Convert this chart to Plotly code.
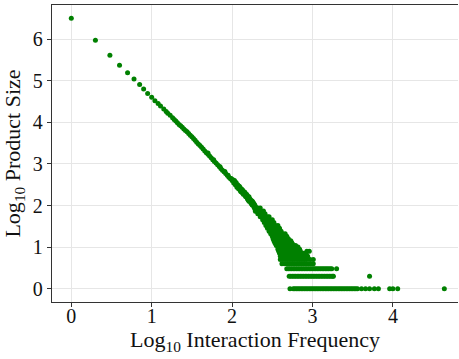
import plotly.graph_objects as go

# Log10 interaction frequency (x) vs log10 product size (y)
head_x = [0.00, 0.30, 0.48, 0.60, 0.70, 0.78, 0.85, 0.90, 0.95, 1.00]
head_y = [6.50, 5.97, 5.61, 5.37, 5.19, 5.04, 4.91, 4.80, 4.69, 4.60]

line_x = [1.04, 1.08, 1.11, 1.15, 1.18, 1.20, 1.23, 1.26, 1.28, 1.30, 1.32, 1.34,
          1.36, 1.38, 1.40, 1.42, 1.44, 1.46, 1.48, 1.50, 1.52, 1.54, 1.56, 1.58,
          1.60, 1.62, 1.64, 1.66, 1.68, 1.70, 1.72, 1.74, 1.76, 1.78, 1.80, 1.82,
          1.84, 1.86, 1.88, 1.90, 1.92, 1.94, 1.96, 1.98, 2.00,
          1.70, 1.77, 1.85, 1.91, 1.95, 1.99]
line_y = [4.52, 4.45, 4.39, 4.32, 4.26, 4.22, 4.17, 4.11, 4.07, 4.03, 3.99, 3.95,
          3.92, 3.88, 3.84, 3.80, 3.77, 3.73, 3.69, 3.65, 3.61, 3.57, 3.52, 3.48,
          3.44, 3.40, 3.36, 3.31, 3.27, 3.23, 3.19, 3.15, 3.10, 3.06, 3.02, 2.98,
          2.94, 2.89, 2.85, 2.81, 2.77, 2.73, 2.68, 2.64, 2.60,
          3.26, 3.10, 2.93, 2.82, 2.73, 2.65]

spread_x = [2.01, 2.02, 2.03, 2.04, 2.05, 2.06, 2.07, 2.08, 2.09, 2.10, 2.10, 2.11,
            2.12, 2.13, 2.13, 2.14, 2.15, 2.16, 2.16, 2.17, 2.18, 2.19, 2.19, 2.20,
            2.21, 2.21, 2.22, 2.23, 2.23, 2.24, 2.25, 2.25, 2.26, 2.27, 2.27, 2.28,
            2.28, 2.29, 2.29, 2.30]
spread_y = [2.62, 2.54, 2.60, 2.50, 2.55, 2.44, 2.50, 2.40, 2.46, 2.36, 2.43, 2.33,
            2.39, 2.30, 2.37, 2.27, 2.33, 2.24, 2.31, 2.21, 2.27, 2.16, 2.24, 2.13,
            2.21, 2.10, 2.16, 2.07, 2.14, 2.04, 2.11, 2.01, 2.08, 1.97, 2.05, 1.93,
            2.02, 1.86, 1.98, 1.90]

# Dense wedge, one list per product-size level
wedge_levels = [0.60, 0.70, 0.78, 0.85, 0.90, 0.95, 1.00, 1.04, 1.08, 1.11, 1.15,
                1.20, 1.26, 1.32, 1.38, 1.45, 1.52, 1.59, 1.66, 1.73, 1.80, 1.87, 1.94]
wedge_rows_x = [
    [2.62, 2.65, 2.68, 2.71, 2.74, 2.77, 2.80, 2.83, 2.86, 2.89, 2.92, 2.95, 2.98, 3.01],
    [2.60, 2.63, 2.66, 2.69, 2.72, 2.75, 2.78, 2.81, 2.84, 2.87, 2.90, 2.93, 2.97, 3.01],
    [2.60, 2.64, 2.67, 2.70, 2.73, 2.76, 2.79, 2.82, 2.85, 2.88, 2.91, 2.94],
    [2.59, 2.62, 2.65, 2.68, 2.71, 2.74, 2.77, 2.80, 2.83, 2.86, 2.89, 2.92],
    [2.58, 2.61, 2.64, 2.67, 2.70, 2.73, 2.76, 2.79, 2.82, 2.85, 2.93, 2.96],
    [2.57, 2.60, 2.63, 2.66, 2.69, 2.72, 2.75, 2.78, 2.81, 2.84],
    [2.57, 2.60, 2.63, 2.66, 2.69, 2.72, 2.75, 2.78, 2.82],
    [2.55, 2.58, 2.61, 2.64, 2.67, 2.70, 2.73, 2.76, 2.79],
    [2.54, 2.57, 2.60, 2.63, 2.66, 2.69, 2.72, 2.75],
    [2.53, 2.56, 2.59, 2.62, 2.65, 2.68, 2.71, 2.74],
    [2.52, 2.55, 2.58, 2.61, 2.64, 2.67, 2.70, 2.73],
    [2.51, 2.54, 2.57, 2.60, 2.63, 2.66, 2.70],
    [2.50, 2.53, 2.56, 2.59, 2.62, 2.65, 2.68],
    [2.48, 2.51, 2.54, 2.57, 2.60, 2.63, 2.66],
    [2.46, 2.49, 2.52, 2.55, 2.58, 2.61],
    [2.44, 2.47, 2.50, 2.53, 2.56, 2.59],
    [2.42, 2.45, 2.48, 2.51, 2.54, 2.57],
    [2.40, 2.43, 2.46, 2.49, 2.52],
    [2.38, 2.41, 2.44, 2.47, 2.50],
    [2.35, 2.38, 2.41, 2.44, 2.46],
    [2.32, 2.35, 2.38, 2.41],
    [2.30, 2.33, 2.36, 2.39],
    [2.29, 2.32, 2.35],
]

row3_y = 0.477
row3_x = [2.68, 2.70, 2.72, 2.74, 2.76, 2.78, 2.80, 2.82, 2.84, 2.86, 2.88, 2.90,
          2.92, 2.94, 2.96, 2.98, 3.00, 3.02, 3.04, 3.06, 3.08, 3.10, 3.12, 3.14,
          3.16, 3.18, 3.20, 3.22, 3.24, 3.30]
row2_y = 0.301
row2_x = [2.71, 2.73, 2.75, 2.77, 2.79, 2.81, 2.83, 2.85, 2.87, 2.89, 2.91, 2.93,
          2.95, 2.97, 2.99, 3.01, 3.03, 3.05, 3.07, 3.09, 3.11, 3.13, 3.15, 3.17,
          3.19, 3.21, 3.23, 3.25, 3.26, 3.71]
row1_y = 0.0
row1_x = [2.72, 2.76, 2.78, 2.80, 2.82, 2.84, 2.86, 2.88, 2.90, 2.92, 2.94, 2.96,
          2.98, 3.00, 3.02, 3.04, 3.06, 3.08, 3.10, 3.12, 3.14, 3.16, 3.18, 3.20,
          3.22, 3.24, 3.26, 3.28, 3.30, 3.32, 3.34, 3.36, 3.38, 3.40, 3.42, 3.44,
          3.46, 3.48, 3.50, 3.52, 3.54, 3.56, 3.61, 3.66, 3.71, 3.77, 3.82, 3.96,
          4.00, 4.06, 4.64]

xs = head_x + line_x + spread_x
ys = head_y + line_y + spread_y
for lvl, rx in zip(wedge_levels, wedge_rows_x):
    xs += rx
    ys += [lvl] * len(rx)
for lvl, rx in ((row3_y, row3_x), (row2_y, row2_x), (row1_y, row1_x)):
    xs += rx
    ys += [lvl] * len(rx)

FONT = "Liberation Serif"

fig = go.Figure(go.Scatter(
    x=xs, y=ys, mode="markers",
    marker=dict(color="#008000", size=5, line=dict(width=0)),
    showlegend=False,
))

axis_common = dict(
    showline=True, linecolor="#333333", linewidth=1.3,
    showgrid=True, gridcolor="#e6e6e6", gridwidth=1,
    zeroline=False, ticks="outside", ticklen=4, tickcolor="#333333",
    tickfont=dict(family=FONT, size=20, color="#111111"),
    automargin=False,
)

fig.update_layout(
    width=459, height=359,
    margin=dict(l=52, r=1, t=5, b=57),
    paper_bgcolor="white", plot_bgcolor="white",
    xaxis=dict(range=[-0.24, 4.81], tickvals=[0, 1, 2, 3, 4], mirror=True,
               ticklabelstandoff=-8,
               title=dict(text="Log<sub>10</sub> Interaction Frequency",
                          font=dict(family=FONT, size=22, color="#111111"), standoff=4),
               **axis_common),
    yaxis=dict(range=[-0.32, 6.82], tickvals=[0, 1, 2, 3, 4, 5, 6],
               title=dict(text="Log<sub>10</sub> Product Size",
                          font=dict(family=FONT, size=22, color="#111111"), standoff=6),
               **axis_common),
)

fig.write_html("out.html", config={"displayModeBar": False},
               post_script="document.body.style.margin='0';")
